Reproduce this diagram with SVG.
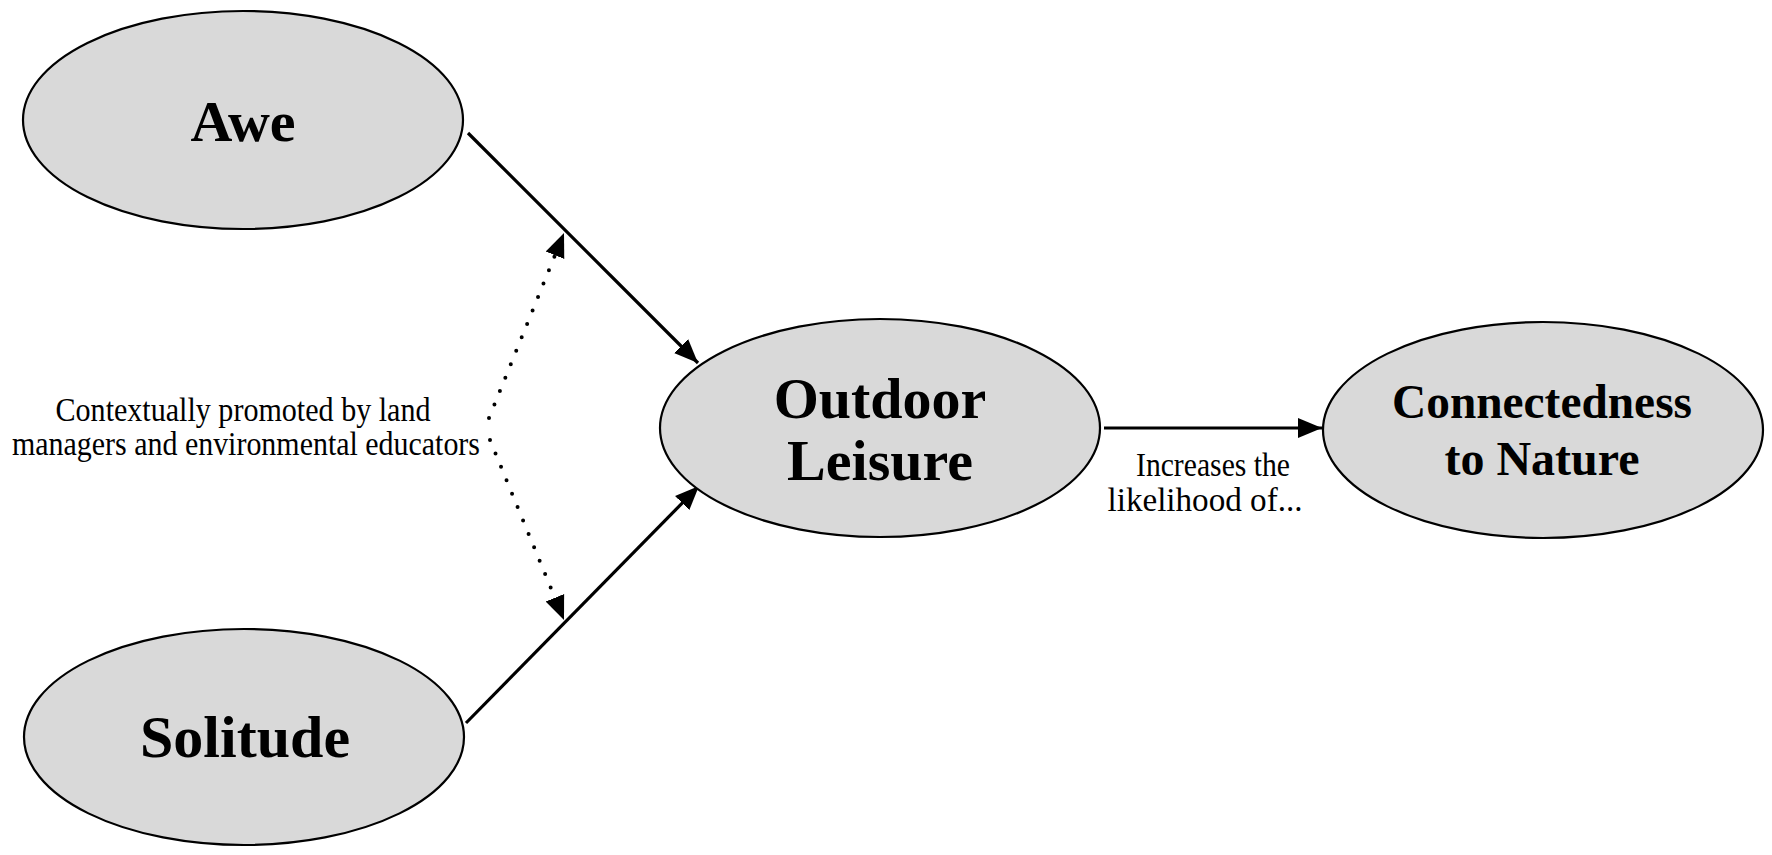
<svg xmlns="http://www.w3.org/2000/svg" width="1772" height="855" viewBox="0 0 1772 855">
<style>
.node{fill:#d9d9d9;stroke:#000;stroke-width:2.2}
.lbl{font-family:"Liberation Serif","Times New Roman",serif;font-weight:bold;fill:#000;text-anchor:middle}
.note{font-family:"Liberation Serif","Times New Roman",serif;fill:#000;text-anchor:middle;font-size:33px}
.solid{stroke:#000;stroke-width:3.2;fill:none}
.dot{stroke:#000;stroke-width:4;fill:none;stroke-linecap:round;stroke-dasharray:0 14.5}
</style>
<defs>
<marker id="ah" markerUnits="userSpaceOnUse" markerWidth="26" markerHeight="22" refX="24" refY="11" orient="auto">
<path d="M0,1 L24,11 L0,21 Z" fill="#000"/>
</marker>
</defs>
<rect width="1772" height="855" fill="#fff"/>
<g id="connectors">
<line class="solid" x1="468" y1="133" x2="698" y2="363" marker-end="url(#ah)"/>
<line class="solid" x1="466" y1="723" x2="699" y2="486" marker-end="url(#ah)"/>
<line class="solid" x1="1104" y1="428" x2="1322" y2="428" marker-end="url(#ah)"/>
<path class="dot" d="M489,418 L564,233" marker-end="url(#ah)"/>
<path class="dot" d="M490,440 L564,620" marker-end="url(#ah)"/>
</g>
<g id="awe">
<ellipse class="node" cx="243" cy="120" rx="220" ry="109"/>
<text class="lbl" x="243" y="141" font-size="58">Awe</text>
</g>
<g id="solitude">
<ellipse class="node" cx="244" cy="737" rx="220" ry="108"/>
<text class="lbl" x="245" y="757" font-size="60">Solitude</text>
</g>
<g id="outdoor-leisure">
<ellipse class="node" cx="880" cy="428" rx="220" ry="109"/>
<text class="lbl" x="880" y="418" font-size="58">Outdoor</text>
<text class="lbl" x="880" y="480" font-size="58">Leisure</text>
</g>
<g id="connectedness">
<ellipse class="node" cx="1543" cy="430" rx="220" ry="108"/>
<text class="lbl" x="1542" y="418" font-size="48" textLength="300" lengthAdjust="spacingAndGlyphs">Connectedness</text>
<text class="lbl" x="1542" y="475" font-size="48">to Nature</text>
</g>
<g id="labels">
<text class="note" x="243" y="421" textLength="375" lengthAdjust="spacingAndGlyphs">Contextually promoted by land</text>
<text class="note" x="246" y="455" textLength="468" lengthAdjust="spacingAndGlyphs">managers and environmental educators</text>
<text class="note" x="1213" y="476" textLength="154" lengthAdjust="spacingAndGlyphs">Increases the</text>
<text class="note" x="1205" y="511" textLength="195" lengthAdjust="spacingAndGlyphs">likelihood of...</text>
</g>
</svg>
